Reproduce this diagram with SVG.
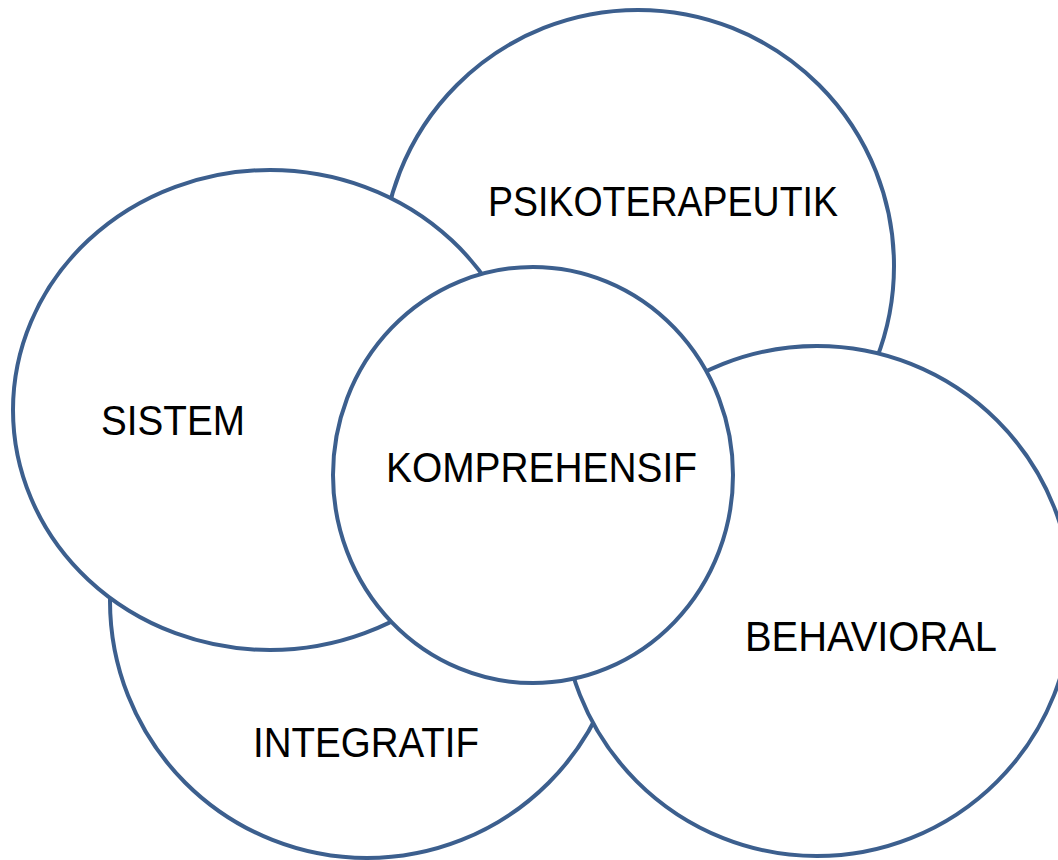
<svg xmlns="http://www.w3.org/2000/svg" width="1058" height="860" viewBox="0 0 1058 860">
<style>
.c{fill:#ffffff;stroke:#3C5F8E;stroke-width:4}
.t{font-family:"Liberation Sans",Arial,sans-serif;font-size:42px;fill:#000000}
</style>
<rect width="1058" height="860" fill="#ffffff"/>
<g id="psikoterapeutik">
<circle class="c" cx="638" cy="266" r="256"/>
<text class="t" x="488" y="216" textLength="350" lengthAdjust="spacingAndGlyphs">PSIKOTERAPEUTIK</text>
</g>
<g id="integratif">
<circle class="c" cx="367" cy="601" r="257"/>
<text class="t" x="253" y="757" textLength="226" lengthAdjust="spacingAndGlyphs">INTEGRATIF</text>
</g>
<g id="behavioral">
<circle class="c" cx="817" cy="601" r="255"/>
<text class="t" x="745" y="651" textLength="252" lengthAdjust="spacingAndGlyphs">BEHAVIORAL</text>
</g>
<g id="sistem">
<ellipse class="c" cx="270" cy="410" rx="257" ry="240"/>
<text class="t" x="101" y="435" textLength="144" lengthAdjust="spacingAndGlyphs">SISTEM</text>
</g>
<g id="komprehensif">
<ellipse class="c" cx="533" cy="475" rx="200" ry="208"/>
<text class="t" x="386" y="482" textLength="311" lengthAdjust="spacingAndGlyphs">KOMPREHENSIF</text>
</g>
<g id="connectors"></g>
</svg>
